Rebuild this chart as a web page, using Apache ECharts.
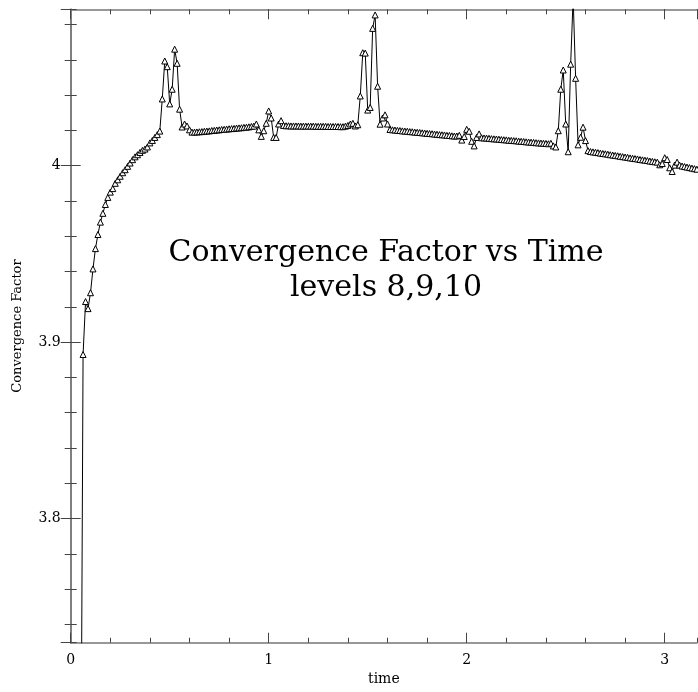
<!DOCTYPE html>
<html>
<head>
<meta charset="UTF-8">
<style>
html, body { margin: 0; padding: 0; background: #fff; }
#main { width: 698px; height: 692px; }
</style>
</head>
<body>
<div id="main"></div>
<script src="https://cdn.jsdelivr.net/npm/echarts@6/dist/echarts.min.js"></script>
<script>
// sampling: first sample at t0, one sample every dt
var t0 = 0.05, dt = 0.0125;
var xTicks = ['0', '1', '2', '3'];
var factor = [
  3.600, 3.893, 3.923, 3.919, 3.928, 3.9415, 3.953, 3.961, 3.968, 3.973,
  3.978, 3.982, 3.985, 3.987, 3.990, 3.992, 3.994, 3.996, 3.9977, 3.9996,
  4.0015, 4.0034, 4.0050, 4.0062, 4.0075, 4.0087, 4.0094, 4.0106, 4.0129, 4.0143,
  4.0160, 4.0176, 4.0196, 4.0378, 4.0593, 4.0561, 4.0350, 4.0433, 4.0660, 4.0580,
  4.0320, 4.0219, 4.0236, 4.0225, 4.0203, 4.0190, 4.0190, 4.0191, 4.0192, 4.0193,
  4.0195, 4.0196, 4.0197, 4.0199, 4.0200, 4.0202, 4.0203, 4.0205, 4.0206, 4.0207,
  4.0209, 4.0210, 4.0211, 4.0213, 4.0214, 4.0215, 4.0217, 4.0218, 4.0220, 4.0222,
  4.0224, 4.0236, 4.0203, 4.0166, 4.0198, 4.0240, 4.0310, 4.0270, 4.0160, 4.0160,
  4.0236, 4.0255, 4.0228, 4.0226, 4.0226, 4.0225, 4.0225, 4.0225, 4.0225, 4.0224,
  4.0224, 4.0224, 4.0224, 4.0224, 4.0224, 4.0223, 4.0223, 4.0223, 4.0223, 4.0223,
  4.0222, 4.0222, 4.0222, 4.0222, 4.0222, 4.0221, 4.0221, 4.0224, 4.0228, 4.0236,
  4.0240, 4.0225, 4.0232, 4.0395, 4.0640, 4.0638, 4.0315, 4.0330, 4.0778, 4.0854,
  4.0450, 4.0235, 4.0270, 4.0288, 4.0236, 4.0205, 4.0203, 4.0202, 4.0200, 4.0199,
  4.0197, 4.0196, 4.0195, 4.0193, 4.0192, 4.0190, 4.0189, 4.0188, 4.0186, 4.0185,
  4.0183, 4.0182, 4.0181, 4.0179, 4.0178, 4.0176, 4.0175, 4.0174, 4.0172, 4.0171,
  4.0169, 4.0168, 4.0168, 4.0172, 4.0145, 4.0165, 4.0206, 4.0195, 4.0138, 4.0112,
  4.0160, 4.0180, 4.0158, 4.0157, 4.0156, 4.0155, 4.0153, 4.0152, 4.0151, 4.0150,
  4.0148, 4.0147, 4.0146, 4.0144, 4.0143, 4.0142, 4.0141, 4.0139, 4.0138, 4.0137,
  4.0135, 4.0134, 4.0133, 4.0132, 4.0130, 4.0129, 4.0128, 4.0127, 4.0126, 4.0124,
  4.0127, 4.0112, 4.0106, 4.0198, 4.0433, 4.0542, 4.0236, 4.0079, 4.0575, 4.0950,
  4.0495, 4.0118, 4.0161, 4.0218, 4.0142, 4.0085, 4.0080, 4.0078, 4.0076, 4.0074,
  4.0071, 4.0069, 4.0067, 4.0065, 4.0062, 4.0060, 4.0058, 4.0056, 4.0053, 4.0051,
  4.0049, 4.0047, 4.0044, 4.0042, 4.0040, 4.0038, 4.0035, 4.0033, 4.0031, 4.0029,
  4.0026, 4.0024, 4.0022, 4.0020, 4.0005, 4.0012, 4.0045, 4.0035, 3.9988, 3.9967,
  4.0003, 4.0020, 4.0003, 3.9998, 3.9995, 3.9992, 3.9989, 3.9986, 3.9983, 3.9980
];

var points = [];
for (var i = 0; i < factor.length; i++) {
  points.push([t0 + i * dt, factor[i]]);
}

var font = 'DejaVu Serif';
var xMin = 0, xMax = 3.163;
var yMin = 3.7297, yMax = 4.0886;

// negative length draws the ticks into the plot
function xAx(pos, major) {
  return {
    type: 'value', position: pos, min: xMin, max: xMax,
    interval: major ? 1 : 0.2,
    axisLine: { show: major, lineStyle: { color: '#777', width: 1.5 } },
    axisTick: { inside: false, length: major ? -10 : -5, lineStyle: { color: '#444' } },
    axisLabel: { show: false },
    splitLine: { show: false }
  };
}
function yAx(pos, major) {
  return {
    type: 'value', position: pos, min: yMin, max: yMax,
    splitNumber: major ? 5 : 18,
    axisLine: { show: major, lineStyle: { color: '#777', width: 1.5 } },
    axisTick: { inside: false, length: major ? -10 : -6, lineStyle: { color: '#444' } },
    axisLabel: { show: false },
    splitLine: { show: false }
  };
}

var xMain = xAx('bottom', true);
xMain.axisLabel = {
  show: true, margin: 11, color: '#000', fontFamily: font, fontSize: 14,
  showMinLabel: true, showMaxLabel: false,
  formatter: function (v) { return xTicks.indexOf(String(v)) >= 0 ? String(v) : ''; }
};
xMain.name = 'time';
xMain.nameLocation = 'middle';
xMain.nameGap = 30;
xMain.nameTextStyle = { color: '#000', fontFamily: font, fontSize: 14 };

var yMain = yAx('left', true);
yMain.axisLabel = {
  show: true, margin: 10, color: '#000', fontFamily: font, fontSize: 14,
  showMinLabel: false, showMaxLabel: false
};
yMain.name = 'Convergence Factor';
yMain.nameLocation = 'middle';
yMain.nameGap = 47;
yMain.nameTextStyle = { color: '#000', fontFamily: font, fontSize: 13 };

var myChart = echarts.init(document.getElementById('main'));
myChart.setOption({
  animation: false,
  backgroundColor: '#fff',
  title: {
    text: 'Convergence Factor vs Time\nlevels 8,9,10',
    left: 386, top: 236, padding: 0,
    textAlign: 'center',
    textStyle: { fontFamily: font, fontSize: 30, fontWeight: 'normal', color: '#000', lineHeight: 35 }
  },
  grid: { left: 70.7, right: 1, top: 9.3, bottom: 49.3 },
  xAxis: [xMain, xAx('bottom', false), xAx('top', true), xAx('top', false)],
  yAxis: [yMain, yAx('left', false), yAx('right', true), yAx('right', false)],
  series: [{
    type: 'line',
    xAxisIndex: 0, yAxisIndex: 0,
    data: points,
    clip: true,
    symbol: 'triangle',
    symbolSize: 6,
    lineStyle: { color: '#000', width: 1 },
    itemStyle: { color: '#fff', borderColor: '#000', borderWidth: 1 }
  }]
});
</script>
</body>
</html>
